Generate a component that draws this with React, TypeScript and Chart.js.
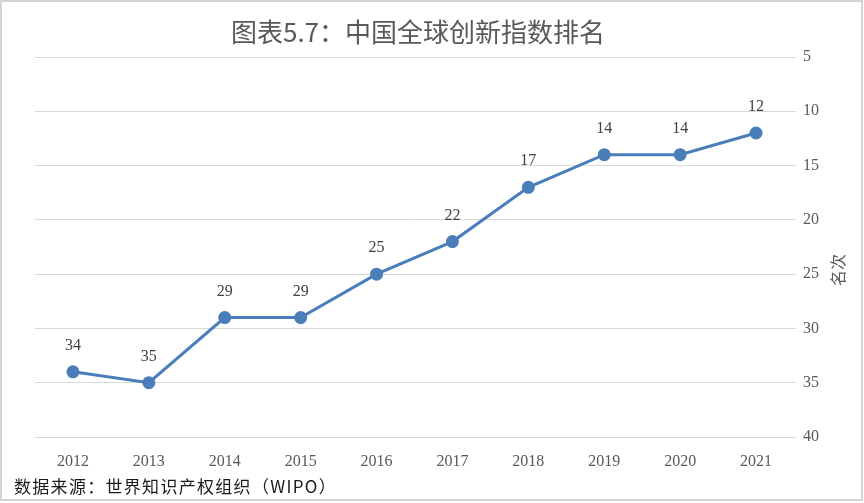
import React, { useEffect, useRef } from "react";
import { Chart, registerables } from "chart.js";

Chart.register(...registerables);

const years = ["2012", "2013", "2014", "2015", "2016", "2017", "2018", "2019", "2020", "2021"];
const ranks = [34, 35, 29, 29, 25, 22, 17, 14, 14, 12];
const titleText = "图表5.7：中国全球创新指数排名";
const sourceText = "数据来源：世界知识产权组织（WIPO）";
const yAxisTitle = "名次";

const W = 864;
const H = 503;

const decorPlugin = {
  id: "decor",
  afterDraw(chart: any) {
    const ctx = chart.ctx;
    ctx.save();
    // border
    ctx.strokeStyle = "#d4d4d4";
    ctx.lineWidth = 2;
    ctx.strokeRect(1, 1, W - 3, H - 4);
    // title
    ctx.fillStyle = "#595959";
    ctx.font = '26px "Noto Sans CJK SC"';
    ctx.textAlign = "center";
    ctx.textBaseline = "middle";
    ctx.fillText(titleText, 418, 32);
    // source
    ctx.fillStyle = "#1a1a1a";
    ctx.font = '17px "Noto Sans CJK SC"';
    ctx.textAlign = "left";
    (ctx as any).letterSpacing = "1.3px";
    ctx.fillText(sourceText, 14, 487);
    (ctx as any).letterSpacing = "0px";
    // y axis title (reading bottom to top)
    ctx.save();
    ctx.translate(838, 270);
    ctx.rotate(-Math.PI / 2);
    ctx.fillStyle = "#595959";
    ctx.font = '16px "Noto Sans CJK SC"';
    ctx.textAlign = "center";
    ctx.fillText(yAxisTitle, 0, 0);
    ctx.restore();
    // data labels
    const meta = chart.getDatasetMeta(0);
    ctx.fillStyle = "#404040";
    ctx.font = '16px "Liberation Serif"';
    ctx.textAlign = "center";
    ctx.textBaseline = "middle";
    meta.data.forEach((pt: any, i: number) => {
      ctx.fillText(String(ranks[i]), pt.x, pt.y - 26);
    });
    ctx.restore();
  },
};

export default function App() {
  const ref = useRef<HTMLCanvasElement>(null);
  useEffect(() => {
    document.body.style.margin = "0";
    const chart = new Chart(ref.current!, {
      type: "line",
      data: {
        labels: years,
        datasets: [
          {
            data: ranks,
            borderColor: "#4a7ebb",
            backgroundColor: "#4a7ebb",
            borderWidth: 3,
            pointRadius: 5,
            pointBackgroundColor: "#4a7ebb",
            pointBorderColor: "#4a7ebb",
            tension: 0,
          },
        ],
      },
      options: {
        animation: false,
        responsive: false,
        layout: { padding: { left: 35, top: 57, right: 0, bottom: 0 } },
        plugins: { legend: { display: false }, tooltip: { enabled: false }, title: { display: false } },
        scales: {
          x: {
            offset: true,
            grid: { display: false, offset: true },
            border: { display: false },
            ticks: {
              color: "#595959",
              font: { family: "Liberation Serif", size: 16 },
              padding: 7,
              maxRotation: 0,
            },
            afterFit(scale: any) {
              scale.height = 66;
            },
          },
          y: {
            position: "right",
            reverse: true,
            min: 5,
            max: 40,
            grid: { color: "#d9d9d9", lineWidth: 1, drawTicks: true, tickLength: 2 },
            border: { display: false },
            ticks: {
              stepSize: 5,
              color: "#595959",
              font: { family: "Liberation Serif", size: 16 },
              padding: 7,
            },
            afterFit(scale: any) {
              scale.width = 70;
            },
          },
        },
      },
      plugins: [decorPlugin],
    });
    return () => chart.destroy();
  }, []);
  return <canvas ref={ref} width={W} height={H} style={{ display: "block" }} />;
}
